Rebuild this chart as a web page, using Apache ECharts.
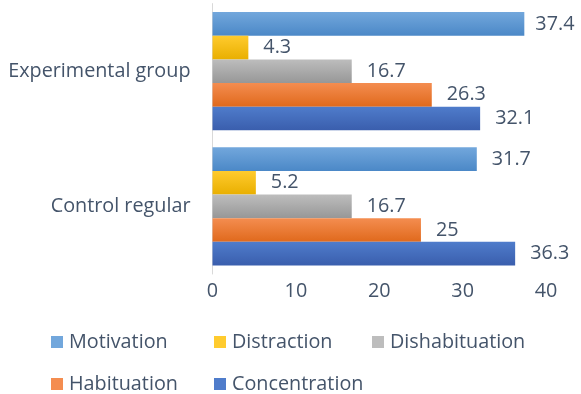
<!DOCTYPE html>
<html>
<head>
<meta charset="utf-8">
<style>
  html, body { margin: 0; padding: 0; background: #ffffff; }
  #chart { width: 581px; height: 394px; }
</style>
<script src="https://cdn.jsdelivr.net/npm/echarts@6/dist/echarts.min.js"></script>
</head>
<body>
<div id="chart"></div>
<script>
// Groups shown on the category axis, top to bottom
const groups = ['Experimental group', 'Control regular'];

// Measures, one series each
const seriesNames = ['Motivation', 'Distraction', 'Dishabituation', 'Habituation', 'Concentration'];
const motivation     = [37.4, 31.7];
const distraction    = [4.3, 5.2];
const dishabituation = [16.7, 16.7];
const habituation    = [26.3, 25];
const concentration  = [32.1, 36.3];

// Value axis ticks
const xTicks = [0, 10, 20, 30, 40];

const values = [motivation, distraction, dishabituation, habituation, concentration];

// Office-style vertical gradients (light top, darker bottom)
const palette = [
  ['#72a7dc', '#4b88c7'],
  ['#ffcb2e', '#e9af00'],
  ['#bdbdbd', '#979797'],
  ['#f48d50', '#e0691c'],
  ['#4f7ccb', '#3a5ead']
];

const textColor = '#44546a';
const font = 'Open Sans';
const fontSize = 19.8;
const axisMax = xTicks[xTicks.length - 1];

function grad(c) {
  return new echarts.graphic.LinearGradient(0, 0, 0, 1, [
    { offset: 0, color: c[0] },
    { offset: 1, color: c[1] }
  ]);
}

// Labels of bars reaching close to the right edge sit a little tighter
function toItems(arr) {
  return arr.map(v => (v > axisMax * 0.92 ? { value: v, label: { distance: 11 } } : v));
}

const series = seriesNames.map((name, i) => ({
  name: name,
  type: 'bar',
  barGap: '0%',
  barCategoryGap: '12.6%',
  itemStyle: { color: grad(palette[i]) },
  label: {
    show: true,
    position: 'right',
    distance: 15,
    color: textColor,
    fontFamily: font,
    fontSize: fontSize
  },
  data: toItems(values[i])
}));

// Legend entries laid out in two rows of aligned columns
const legendSlots = [
  { left: 51,  top: 332 },
  { left: 214, top: 332 },
  { left: 372, top: 332 },
  { left: 51,  top: 374 },
  { left: 214, top: 374 }
];
const legends = seriesNames.map((name, i) => ({
  data: [{ name: name, icon: 'rect', itemStyle: { color: palette[i][0] } }],
  left: legendSlots[i].left,
  top: legendSlots[i].top,
  padding: 0,
  itemWidth: 12,
  itemHeight: 12,
  itemGap: 0,
  selectedMode: false,
  textStyle: { color: textColor, fontFamily: font, fontSize: fontSize, padding: [0, 0, 0, 1] }
}));

const chart = echarts.init(document.getElementById('chart'), null, { renderer: 'canvas' });
chart.setOption({
  animation: false,
  backgroundColor: '#ffffff',
  grid: { left: 212.5, right: 35, top: 3.6, bottom: 120, containLabel: false },
  xAxis: {
    type: 'value',
    min: xTicks[0],
    max: axisMax,
    interval: xTicks[1] - xTicks[0],
    axisLine: { show: false },
    axisTick: { show: false },
    splitLine: { show: false },
    axisLabel: { color: textColor, fontFamily: font, fontSize: fontSize, margin: 7 }
  },
  yAxis: {
    type: 'category',
    data: groups,
    inverse: true,
    axisLine: { show: true, lineStyle: { color: '#d9d9d9', width: 1 } },
    axisTick: { show: false },
    axisLabel: { color: textColor, fontFamily: font, fontSize: fontSize, margin: 22 }
  },
  legend: legends,
  series: series
});
</script>
</body>
</html>
